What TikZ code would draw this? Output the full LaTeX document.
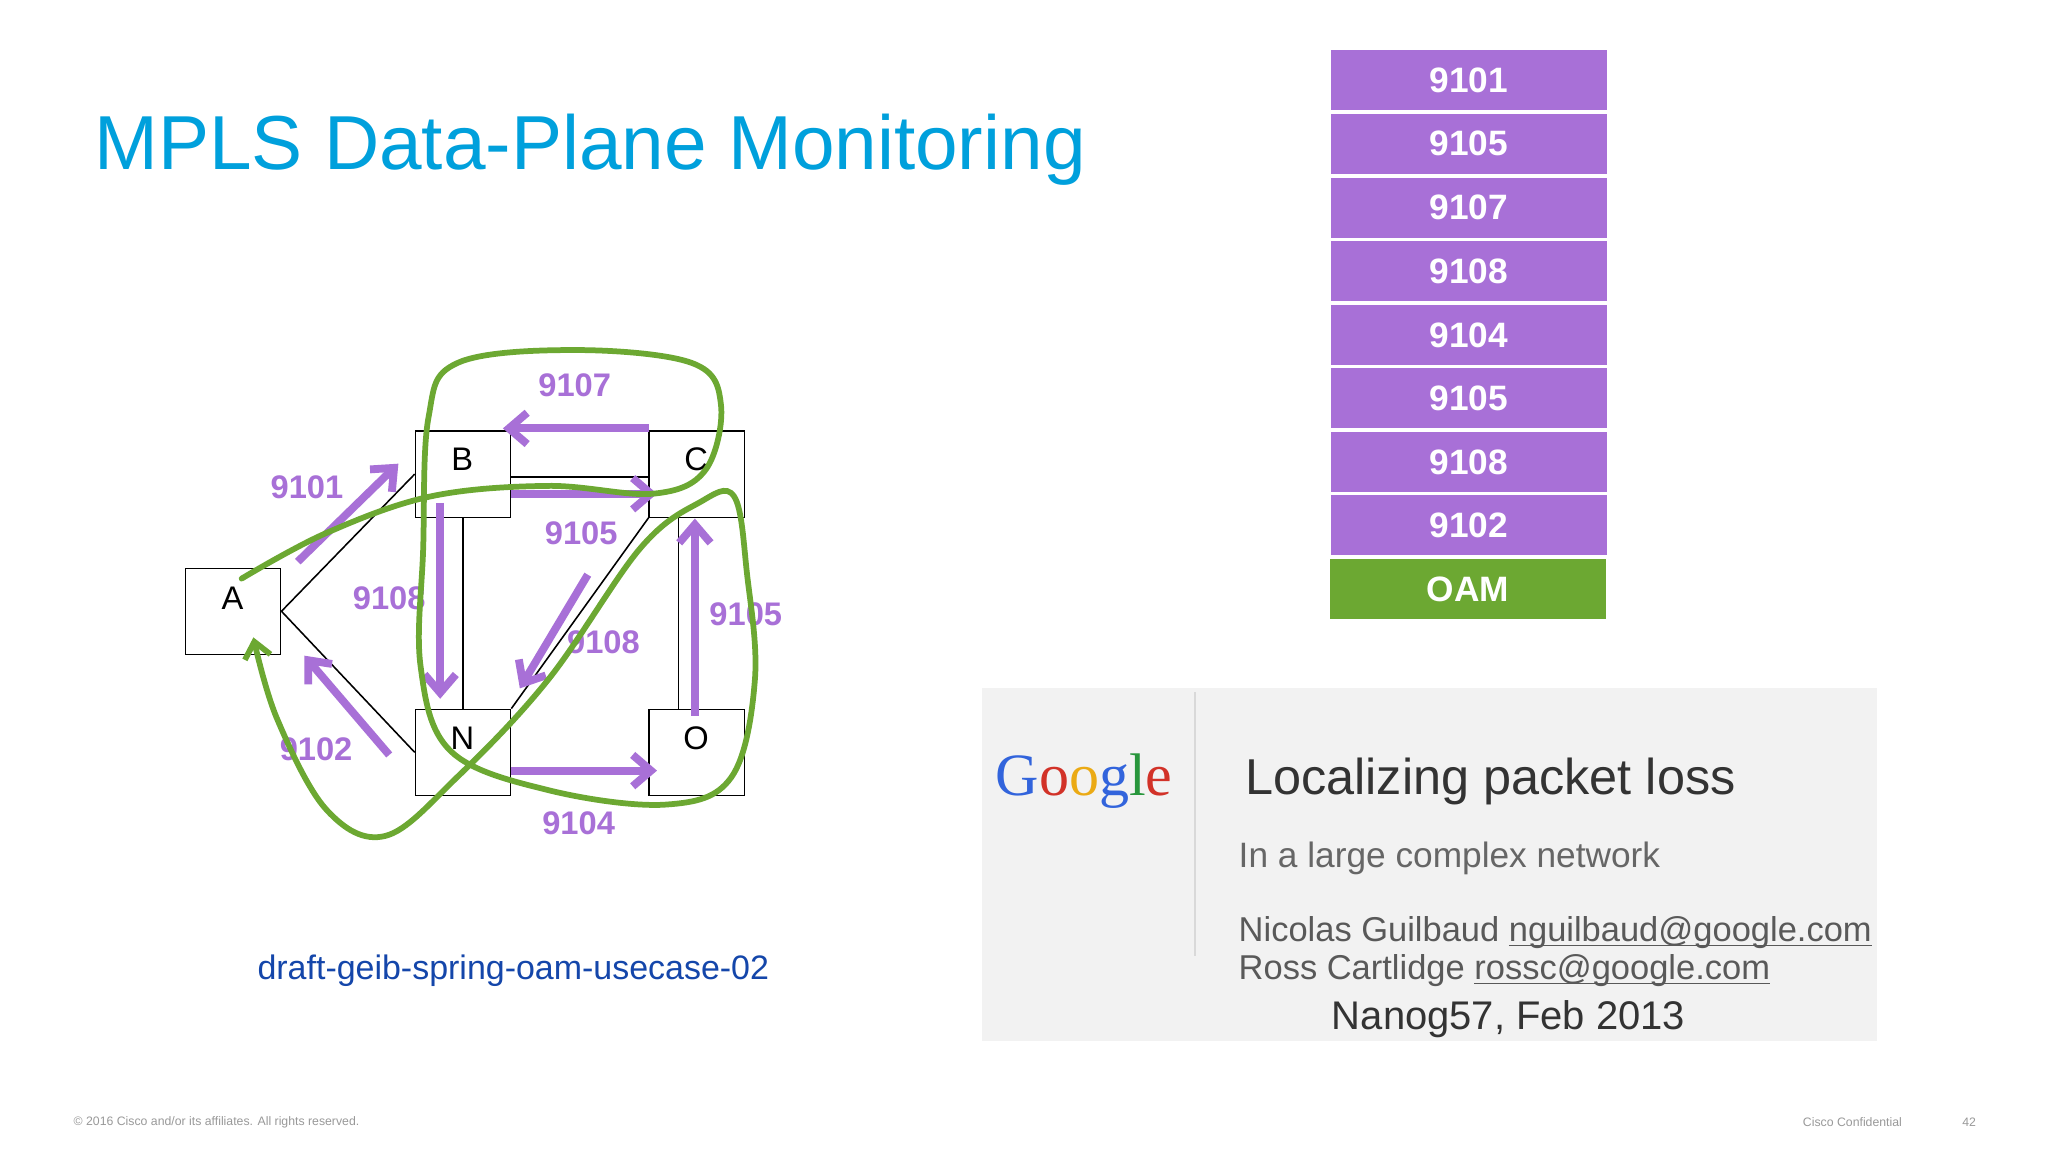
\documentclass[tikz,border=0pt]{standalone}
\usepackage{fontspec}
\setmainfont{Liberation Sans}
\newfontfamily\gfont{Liberation Serif}
\usetikzlibrary{arrows.meta}
\definecolor{ttl}{RGB}{0,160,220}
\definecolor{pur}{RGB}{168,112,215}
\definecolor{grn}{RGB}{108,168,50}
\definecolor{drf}{RGB}{20,70,170}
\definecolor{gblue}{RGB}{50,100,220}
\definecolor{gred}{RGB}{210,50,40}
\definecolor{gyel}{RGB}{235,170,20}
\definecolor{ggrn}{RGB}{40,150,60}
\newcommand{\fs}[1]{\fontsize{#1}{#1}\selectfont}
\newcommand{\ul}[1]{\underline{\smash{#1}}}
\tikzset{
 rbox/.style={draw,line width=0.5pt,minimum width=36.5pt,minimum height=33pt,inner sep=0},
 rlab/.style={font=\fs{12.5}},
 lnk/.style={line width=0.6pt},
 parr/.style={pur,line width=3pt,-{Straight Barb[length=7pt,width=12pt]}},
 plab/.style={pur,font=\bfseries\fs{12.5}},
 slab/.style={fill=pur,text=white,font=\bfseries\fs{13.5},minimum width=105.5pt,minimum height=23pt,inner sep=0},
}
\begin{document}
\begin{tikzpicture}[x=0.5pt,y=-0.5pt]
\useasboundingbox (0,0) rectangle (1568,882);
\fill[white] (0,0) rectangle (1568,882);
\node[anchor=base west,ttl,font=\fs{29.3},inner sep=0] (title) at (72,130) {MPLS Data-Plane Monitoring};
% routers
\node[rbox] (A) at (178.5,468) {};
\node[rbox] (B) at (354.5,363) {};
\node[rbox] (C) at (533.5,363) {};
\node[rbox] (N) at (354.5,576) {};
\node[rbox] (O) at (533.5,576) {};
\node[rlab] (Al) at (178,458) {A};
\node[rlab] (Bl) at (354,352) {B};
\node[rlab] (Cl) at (533,352) {C};
\node[rlab] (Nl) at (354,565) {N};
\node[rlab] (Ol) at (533,565) {O};
% links
\draw[lnk] (A.east) -- (B.west);
\draw[lnk] (A.east) -- (N.west);
\draw[lnk] ([yshift=-8pt]B.east) -- ([yshift=-8pt]C.west);
\draw[lnk] ([yshift=-1pt]B.east) -- ([yshift=-1pt]C.west);
\draw[lnk] (B.south) -- (N.north);
\draw[lnk] ([xshift=-7pt]C.south) -- ([xshift=-7pt]O.north);
\draw[lnk] (C.south west) -- (N.north east);
\draw[lnk] ([yshift=-6pt]N.east) -- ([yshift=-6pt]O.west);
% purple arrows
\coordinate (a1) at (228,430); \coordinate (a2) at (305,355);
\draw[parr] (a1) -- (a2);
\coordinate (b1) at (497,328); \coordinate (b2) at (385,328);
\draw[parr] (b1) -- (b2);
\coordinate (c1) at (391,378); \coordinate (c2) at (503,378);
\draw[parr] (c1) -- (c2);
\coordinate (d1) at (337,385); \coordinate (d2) at (337,535);
\draw[parr] (d1) -- (d2);
\coordinate (e1) at (450,440); \coordinate (e2) at (398,527);
\draw[parr] (e1) -- (e2);
\coordinate (f1) at (532,548); \coordinate (f2) at (532,397);
\draw[parr] (f1) -- (f2);
\coordinate (g1) at (391,590); \coordinate (g2) at (503,590);
\draw[parr] (g1) -- (g2);
\coordinate (h1) at (298,578); \coordinate (h2) at (233,502);
\draw[parr] (h1) -- (h2);
\node[plab] (l1) at (235,373) {9101};
\node[plab] (l2) at (440,295) {9107};
\node[plab] (l3) at (445,408) {9105};
\node[plab] (l4) at (298,458) {9108};
\node[plab] (l5) at (462,492) {9108};
\node[plab] (l6) at (571,470) {9105};
\node[plab] (l7) at (443,630) {9104};
\node[plab] (l8) at (242,574) {9102};
% green path
\draw[grn,line width=2.2pt,line cap=round,-{Straight Barb[length=6pt,width=10pt]}]
 plot[smooth,tension=0.6] coordinates {(185,443) (250,408) (330,380) (420,372) (500,378) (540,360) (552,310) (530,278) (440,268) (350,278) (328,320) (324,420) (322,510) (345,575) (420,605) (510,616) (560,595) (578,520) (572,440) (562,380) (535,385) (490,420) (420,520) (350,595) (295,640) (250,620) (212,550) (194,488)};
% stack
\foreach \y/\t [count=\i] in {61.5/9101,110/9105,159/9107,207.5/9108,256.5/9104,305/9105,354/9108,402/9102}{
 \node[slab] (s\i) at (1124.5,\y) {\t};
}
\node[slab,fill=grn] (oam) at (1124,451) {OAM};
% google panel
\fill[black!5] (752,527) rectangle (1437,797);
\draw[black!15,line width=0.6pt] (915,530) -- (915,732);
\node[font=\gfont\fs{23},inner sep=0] (g) at (830,598) {\textcolor{gblue}{G}\textcolor{gred}{o}\textcolor{gyel}{o}\textcolor{gblue}{g}\textcolor{ggrn}{l}\textcolor{gred}{e}};
\node[anchor=base west,inner sep=0,font=\fs{19.3},black!80] (t1) at (953,608) {Localizing packet loss};
\node[anchor=base west,inner sep=0,font=\fs{13.5},black!60] (t2) at (948,664) {In a large complex network};
\node[anchor=base west,inner sep=0,font=\fs{13.2},black!65] (t3) at (948,721) {Nicolas Guilbaud \ul{nguilbaud@google.com}};
\node[anchor=base west,inner sep=0,font=\fs{13.2},black!65] (t4) at (948,750) {Ross Cartlidge \ul{rossc@google.com}};
\node[inner sep=0,font=\fs{15.3},black!80] (t5) at (1155,780) {Nanog57, Feb 2013};
\node[drf,font=\fs{13}] (draft) at (393,743) {draft-geib-spring-oam-usecase-02};
\node[anchor=west,inner sep=0,black!40,font=\fs{4.7}] (f1n) at (56,859) {© 2016 Cisco and/or its affiliates. All rights reserved.};
\node[anchor=west,inner sep=0,black!40,font=\fs{4.7}] (f2n) at (1380,859) {Cisco Confidential};
\node[anchor=west,inner sep=0,black!40,font=\fs{4.7}] (f3n) at (1502,859) {42};
\end{tikzpicture}
\end{document}
